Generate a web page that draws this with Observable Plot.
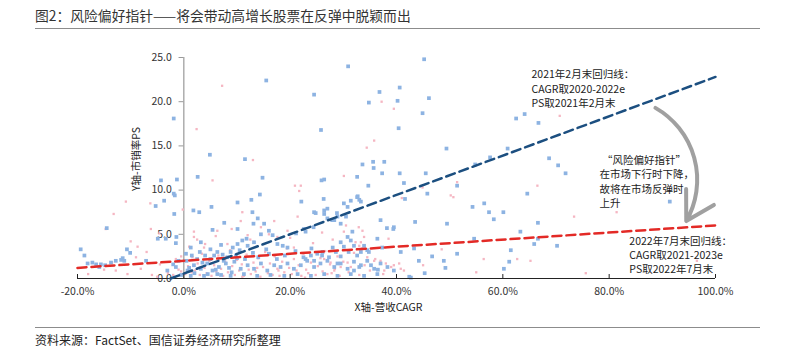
<!DOCTYPE html>
<html><head><meta charset="utf-8">
<script src="https://cdn.jsdelivr.net/npm/d3@7"></script>
<script src="https://cdn.jsdelivr.net/npm/@observablehq/plot@0.6"></script>
<style>
body{margin:0;background:#fff;font-family:"Noto Sans CJK SC","Noto Sans",sans-serif;}
#wrap{position:relative;width:790px;height:349px;overflow:hidden;}
#title{position:absolute;left:35px;top:5px;font-size:13.8px;color:#333;white-space:nowrap;}
#rule1{position:absolute;left:35px;top:28px;width:725px;height:0;border-top:1.5px solid #8c8c8c;}
#rule2{position:absolute;left:35px;top:327px;width:725px;height:0;border-top:1.5px solid #8c8c8c;}
#source{position:absolute;left:35px;top:331px;font-size:12px;color:#222;white-space:nowrap;}
#chart{position:absolute;left:0;top:30px;}
</style></head>
<body><div id="wrap">
<div id="title">图2：风险偏好指针——将会带动高增长股票在反弹中脱颖而出</div>
<div id="rule1"></div>
<div id="chart"></div>
<div id="rule2"></div>
<div id="source">资料来源：FactSet、国信证券经济研究所整理</div>
</div>
<script>
const xTicks = [-20, 0, 20, 40, 60, 80, 100];
const yTicks = [0, 5, 10, 15, 20, 25];

const blueX = [-1.9,4.9,11.5,15.5,24.5,25.8,30.9,33.6,34.8,35.6,35.7,36.8,37.3,37.7,40.2,40.4,40.6,45.2,46.1,44.9,49.4,62.5,64.1,66.7,60.9,57.6,54.8,68.7,70.4,71.8,45.5,40.6,
32.6,25.9,26.4,41.4,34.7,51.4,45.8,26.3,32.7,41.6,
-4.3,-1.3,2.6,14.8,-1.9,-1.7,-3.7,-5.3,-1.8,1.8,2.9,5.2,10.1,12.7,14.3,22.1,7.6,5.4,3.2,10.1,11.8,13.9,14.5,13.1,-4.9,-3.4,-1.4,-14.5,-19.4,-18.7,-18.1,-17.2,-16.5,-15.9,-15.6,-14.8,-13.7,-12.8,-11.8,-11.5,-11.2,-10.7,-10.1,-7.1,-3.1,-1.5,-1.5,
1.3,0.4,5.7,6.3,7.3,8.2,8.8,9.2,10.1,11.0,12.0,13.2,15.1,16.0,16.7,17.6,18.6,19.5,12.9,21.1,22.6,24.5,26.4,27.0,27.9,28.9,29.5,30.1,30.8,31.4,32.6,33.3,37.0,39.5,36.4,37.3,34.5,32.6,
56.5,54.3,57.4,60.1,58.3,64.6,66.6,91.4,49.5,43.5,38.2,39.4,63.3,54.6,65.9,66.6,70.2,61.5,51.4,43.3,40.8,44.2,46.7,48.9,49.2,60.2,61.2,42.4,36.5,35.2,32.0,33.0,34.8,33.9,32.0,31.4,30.8,31.7,29.5,30.1,28.6,28.3,28.8,33.0,30.5,27.0,26.4,24.8,24.4,22.9,33.3,28.9,27.3,26.1,25.1,24.5,23.9,22.9,
0.7,1.9,3.2,4.4,5.4,6.6,7.9,9.5,10.7,12.0,13.2,14.5,15.7,17.0,18.2,19.5,20.7,22.0,23.2,24.5,25.7,27.0,28.3,29.5,30.8,32.0,33.3,34.5,35.8,37.0,38.3,39.5,1.3,3.8,6.3,8.8,11.3,13.8,16.3,18.9,21.4,23.9,26.4,28.9,31.4,33.9,36.4,
2.5,4.0,5.0,7.0,9.8,11.5,13.0,14.0,16.0,17.5,19.0,21.0,22.5,24.0,26.0,28.0,29.5,31.0,15.5,10.5,
0.5,1.0,1.5,2.0,3.0,3.5,4.5,5.0,6.0,7.0,7.5,8.5,9.0,10.0,-0.5,-1.0,-2.0,42.7,45.3];
const blueY = [18.1,14.0,13.5,22.4,20.8,16.8,24.0,12.9,19.9,13.2,12.5,21.1,11.9,13.2,20.1,17.0,21.6,24.8,20.4,18.7,14.7,18.1,18.6,17.6,14.7,13.7,12.9,13.6,12.8,11.9,11.9,11.9,
11.5,11.1,11.2,10.8,10.5,10.5,9.6,9.0,9.3,9.0,
11.1,11.2,11.5,11.4,9.6,9.4,8.8,8.2,7.3,7.7,7.5,8.1,8.6,8.9,9.5,8.7,6.3,5.5,4.1,5.6,4.5,6.8,5.0,6.2,4.5,4.5,4.7,5.7,3.3,2.6,1.7,1.8,1.6,1.3,1.6,1.5,1.8,2.0,2.1,2.3,2.0,3.3,2.9,2.0,0.9,1.3,4.0,
3.5,2.8,2.6,3.0,2.7,2.4,3.0,3.5,3.9,4.3,3.7,4.1,6.2,5.4,4.9,3.9,3.7,3.5,7.5,5.1,5.6,7.5,7.3,7.9,6.6,7.0,6.2,8.5,8.1,8.8,9.2,8.7,6.6,5.8,4.5,3.5,3.2,2.6,
8.5,8.1,7.5,7.5,6.7,9.6,6.3,8.7,6.2,6.4,5.7,5.6,5.3,4.5,3.9,4.5,3.7,3.2,2.8,3.4,3.0,2.0,2.5,2.0,1.2,1.1,1.9,0.2,1.0,1.5,0.9,1.3,3.0,3.7,3.7,4.3,4.7,5.3,4.1,3.6,3.0,6.6,7.4,8.9,7.0,6.8,7.7,7.4,5.8,5.3,3.0,1.7,2.4,3.0,2.8,2.0,2.6,2.2,
0.9,1.5,1.1,1.7,0.9,1.3,1.7,1.9,1.1,1.5,1.1,1.7,0.9,1.5,1.3,1.7,1.1,1.5,2.0,1.3,1.7,2.0,1.3,1.7,1.1,1.9,1.5,2.0,1.1,1.7,1.3,0.9,0.3,0.3,0.5,0.3,0.5,0.3,0.4,0.3,0.5,0.3,0.5,0.3,0.5,0.3,0.5,
2.2,2.6,3.3,3.8,2.6,2.2,2.9,2.4,2.8,2.2,2.6,3.1,2.4,3.4,2.6,3.5,2.5,3.0,3.3,3.2,
2.0,1.2,2.6,0.6,3.0,1.8,0.5,2.2,1.0,0.4,2.0,1.2,0.7,2.3,0.4,2.0,1.6,0.1,0.6];

const pinkX = [7.2,2.4,13.0,34.4,35.8,37.2,39.5,70.7,30.1,20.9,21.7,44.9,50.7,41.0,
-10.9,-13.2,-14.7,-10.0,-6.3,-6.2,-4.6,-0.2,1.9,5.4,22.0,-8.7,
1.9,3.8,6.3,8.2,10.7,12.0,14.5,17.0,17.6,19.5,20.7,21.4,11.0,
66.5,73.4,81.4,56.4,62.7,65.2,75.6,51.4,50.2,32.9,33.6,33.9,33.3,32.3,33.0,30.1,39.5,40.8,41.4,40.5,38.0,37.7,34.5,35.8,37.0,31.4,30.8,29.5,28.3,27.6,26.4,96.5,
-18.0,-15.0,-12.8,-10.6,-8.1,-6.0,-4.5,-3.0,-1.5,-0.5,-9.0,-7.0,-5.0,-13.5,
0.3,0.8,1.2,1.6,2.1,2.6,3.0,3.4,3.9,4.3,4.8,5.2,5.7,6.1,6.5,7.0,7.4,7.8,8.3,8.7,9.1,9.6,10.0,10.4,10.9,11.3,11.8,12.2,12.6,13.1,13.5,14.0,14.4,14.9,15.3,15.8,16.2,16.7,17.1,17.6,18.0,18.5,18.9,19.4,19.8,20.3,20.7,21.2,21.6,22.1,22.5,23.0,23.4,23.9,24.3,24.8,25.2,25.7,26.1,26.6,27.0,27.5,28.0,28.4,28.9,29.3,30.0,31.0,32.0,33.0,34.0,35.0,36.0,37.5,39.0,
-1.0,-2.0,-0.5,1.0,2.5,4.0,6.0,9.0,12.5,16.0,20.0,26.0,30.5,1.5,3.2,5.5,8.0,11.0,13.8,17.8,22.8,27.8,33.5,45.0,55.0,48.5,38.5];
const pinkY = [21.8,16.9,13.4,14.8,15.6,20.0,19.2,18.4,11.6,10.5,9.9,10.3,9.2,9.1,
8.7,7.3,5.6,4.2,8.5,5.6,5.1,7.8,5.3,11.1,10.5,3.6,
4.7,3.5,5.4,3.9,6.5,4.9,5.8,6.5,4.7,5.4,3.5,7.0,7.5,
10.5,7.0,7.5,2.2,2.2,2.0,0.6,10.9,9.4,5.8,5.4,4.7,4.1,4.1,3.7,5.3,1.5,1.1,0.9,1.7,1.7,0.9,2.4,2.0,2.0,1.3,1.8,1.3,0.9,1.8,2.2,2.0,
0.5,1.0,0.9,0.5,1.1,0.4,1.6,0.6,2.2,0.8,2.4,3.0,0.2,1.8,
0.5,1.4,0.2,2.4,0.9,1.7,0.4,2.8,1.2,0.6,2.0,0.3,1.5,0.8,2.6,1.1,0.3,1.9,0.7,3.2,1.4,0.4,2.1,0.9,1.6,0.3,2.7,1.0,0.5,1.8,0.8,2.3,0.2,1.3,3.0,0.6,1.7,0.4,2.5,1.1,0.3,1.9,0.7,3.4,1.2,0.5,2.2,0.9,1.5,0.3,2.8,1.0,0.6,1.8,4.0,0.4,1.4,2.3,0.8,3.1,0.5,1.6,4.4,1.1,2.5,0.3,1.9,0.7,2.9,0.4,1.5,0.9,2.2,0.5,1.3,
1.0,0.4,2.5,3.6,4.4,3.9,4.8,5.6,4.4,5.0,4.6,5.2,6.0,0.7,1.3,0.9,2.4,0.2,1.2,0.9,0.1,0.6,3.4,1.5,0.7,3.3,4.5];

const blueLineX = [-2.5, 100];
const blueLineY = [0, 22.8];
const redLineX = [-20, 100];
const redLineY = [1.2, 6.0];

const annoTop = "2021年2月末回归线：\nCAGR取2020-2022e\nPS取2021年2月末";
const annoMid = " “风险偏好指针”\n在市场下行时下降，\n故将在市场反弹时\n上升";
const annoBot = "2022年7月末回归线：\nCAGR取2021-2023e\nPS取2022年7月末";

const blue = blueX.map((x, i) => ({x, y: blueY[i]}));
const pink = pinkX.map((x, i) => ({x, y: pinkY[i]}));
const blueLine = blueLineX.map((x, i) => ({x, y: blueLineY[i]}));
const redLine = redLineX.map((x, i) => ({x, y: redLineY[i]}));

const font = "'Noto Sans CJK SC', 'Noto Sans', sans-serif";

const chart = Plot.plot({
  width: 790, height: 295,
  marginLeft: 77, marginRight: 75, marginTop: 27, marginBottom: 47,
  x: {domain: [-20, 100], axis: null},
  y: {domain: [0, 25], axis: null},
  style: {fontFamily: font, fontSize: "10px", color: "#333", background: "transparent"},
  marks: [
    Plot.ruleX([0], {y1: 0, y2: 25, stroke: "#999", strokeWidth: 1.2}),
    Plot.ruleY(yTicks, {x1: -0.9, x2: 0, y: d => d, stroke: "#999"}),
    Plot.text(yTicks, {x: 0, y: d => d, text: d => d.toFixed(1), dx: -12, textAnchor: "end", fill: "#333", fontSize: 10.5}),
    Plot.dot(pink, {x: "x", y: "y", symbol: "square", r: 1.3, fill: "#f5b6c2", stroke: "none"}),
    Plot.dot(blue, {x: "x", y: "y", symbol: "square", r: 2.1, fill: "#8db3e2", stroke: "none"}),
    Plot.ruleY([0], {x1: -20, x2: 100, stroke: "#222", strokeWidth: 1.2}),
    Plot.ruleX(xTicks, {x: d => d, y1: 0, y2: 0.45, stroke: "#222"}),
    Plot.text(xTicks, {x: d => d, y: 0, text: d => d.toFixed(1) + "%", dy: 13, fill: "#333", fontSize: 10.5}),
    Plot.line(redLine, {x: "x", y: "y", stroke: "#e32a26", strokeWidth: 2.5, strokeDasharray: "9,5"}),
    Plot.line(blueLine, {x: "x", y: "y", stroke: "#1c4f80", strokeWidth: 2.5, strokeDasharray: "9,5"}),
    Plot.arrow([{x1: 88.7, y1: 19.3, x2: 94.5, y2: 6.5}], {x1: "x1", y1: "y1", x2: "x2", y2: "y2", bend: 45, stroke: "#a0a0a0", strokeWidth: 4, headLength: 12}),
    Plot.text([annoTop], {x: 65.4, y: 23.8, text: d => d, textAnchor: "start", lineAnchor: "top", lineHeight: 1.38, fontSize: 10.5, fill: "#222"}),
    Plot.text([annoMid], {x: 78.2, y: 14.1, text: d => d, textAnchor: "start", lineAnchor: "top", lineHeight: 1.36, fontSize: 10.5, fill: "#222"}),
    Plot.text([annoBot], {x: 83.8, y: 4.9, text: d => d, textAnchor: "start", lineAnchor: "top", lineHeight: 1.33, fontSize: 10.5, fill: "#222"}),
    Plot.text(["Y轴-市销率PS"], {frameAnchor: "left", text: d => d, rotate: -90, textAnchor: "middle", lineAnchor: "middle", dx: 59, dy: -9, fontSize: 10.5, fill: "#222"}),
    Plot.text(["X轴-营收CAGR"], {frameAnchor: "bottom", text: d => d, textAnchor: "middle", lineAnchor: "middle", dx: -8, dy: 29, fontSize: 10.5, fill: "#222"})
  ]
});
document.getElementById("chart").appendChild(chart);
</script>
</body></html>
